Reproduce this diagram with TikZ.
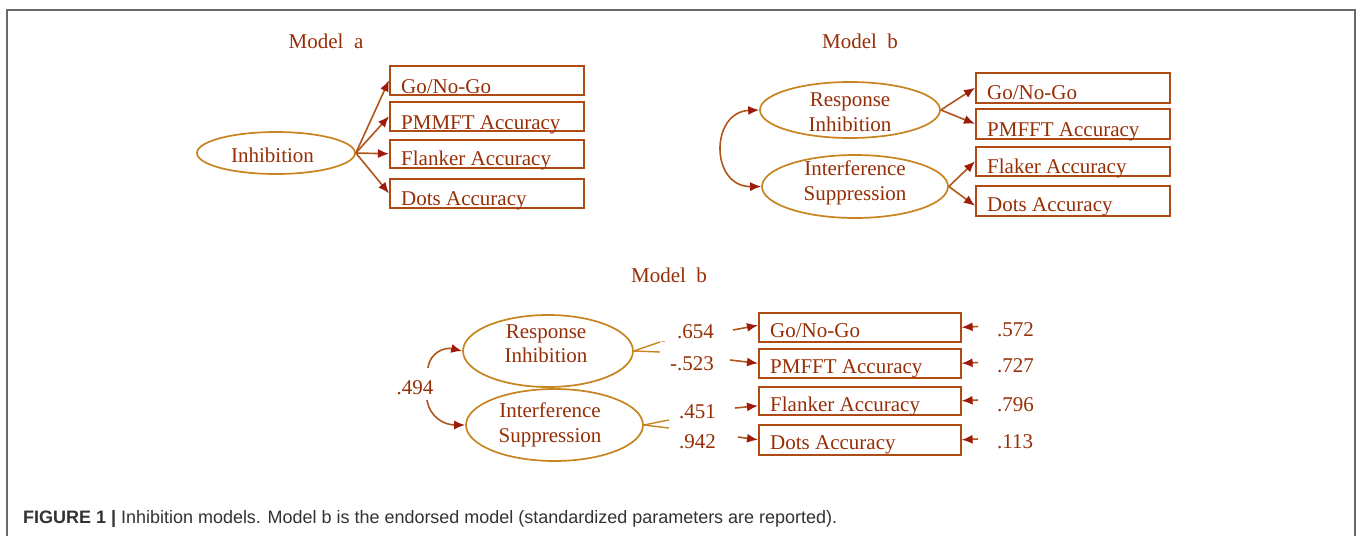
\documentclass[tikz,border=0pt]{standalone}
\usepackage{fontspec}
\usepackage{graphicx}
\setmainfont{Liberation Serif}
\newfontfamily\capfont{Liberation Sans}
\usetikzlibrary{shapes.geometric,arrows.meta,calc}
\definecolor{txtc}{HTML}{962E06}
\definecolor{boxc}{HTML}{B04A14}
\definecolor{ellc}{HTML}{C8841E}
\definecolor{arrc}{HTML}{B0561A}
\definecolor{tipc}{HTML}{9E1A0A}
\definecolor{framec}{HTML}{6A6A6A}
\definecolor{capc}{HTML}{333333}
\begin{document}
\begin{tikzpicture}[x=1pt,y=-1pt,
  every node/.style={font=\fontsize{21}{24}\selectfont, text=txtc, inner sep=0pt},
  ell/.style={draw=ellc, line width=1.7pt, ellipse, inner sep=0pt},
  obox/.style={draw=boxc, line width=1.6pt, rectangle, inner sep=0pt, anchor=north west},
  btext/.style={anchor=base west},
  lbl/.style={anchor=base},
  conn/.style={draw=arrc, line width=1.6pt, -{Latex[length=11pt,width=9pt,color=tipc]}},
  dconn/.style={draw=arrc, line width=1.6pt, {Latex[length=11pt,width=9pt,color=tipc]}-{Latex[length=11pt,width=9pt,color=tipc]}},
  tick/.style={draw=ellc, line width=1.4pt}
  ]
\useasboundingbox (0,0) rectangle (1357,536);
\fill[white] (0,0) rectangle (1357,536);
\draw[framec, line width=2pt] (7,536) -- (7,10) -- (1355,10) -- (1355,536);

% ---------------- Model a ----------------
\node[lbl] (ta) at (326,48) {Model\ \ a};
\node[ell, minimum width=158pt, minimum height=42pt] (inh) at (276,153) {};
\node[lbl] (inht) at (272.5,162) {Inhibition};
\node[obox, minimum width=194pt, minimum height=29pt] (a1) at (389,65) {};
\node[obox, minimum width=194pt, minimum height=29pt] (a2) at (389,101) {};
\node[obox, minimum width=194pt, minimum height=28pt] (a3) at (389,139) {};
\node[obox, minimum width=194pt, minimum height=29pt] (a4) at (389,178) {};
\node[btext] (a1t) at ([xshift=12pt,yshift=2.5pt]a1.south west) {Go/No-Go};
\node[btext] (a2t) at ([xshift=12pt,yshift=2.5pt]a2.south west) {PMMFT Accuracy};
\node[btext] (a3t) at ([xshift=12pt,yshift=3pt]a3.south west) {Flanker Accuracy};
\node[btext] (a4t) at ([xshift=12pt,yshift=3.5pt]a4.south west) {Dots Accuracy};
\draw[conn] (inh.east) -- (a1.west);
\draw[conn] (inh.east) -- (a2.west);
\draw[conn] (inh.east) -- (a3.west);
\draw[conn] (inh.east) -- (a4.west);

% ---------------- Model b (top) ----------------
\node[lbl] (tb) at (860,48) {Model\ \ b};
\node[ell, minimum width=180pt, minimum height=56pt] (rb) at (850,110) {};
\node[lbl] (rbt1) at (850,106) {Response};
\node[lbl] (rbt2) at (850,131) {Inhibition};
\node[ell, minimum width=186pt, minimum height=63pt] (isb) at (855,186.5) {};
\node[lbl] (isbt1) at (855,175) {Interference};
\node[lbl] (isbt2) at (855,200) {Suppression};
\node[obox, minimum width=194pt, minimum height=30pt] (b1) at (975,72) {};
\node[obox, minimum width=194pt, minimum height=30pt] (b2) at (975,108) {};
\node[obox, minimum width=194pt, minimum height=29pt] (b3) at (975,146) {};
\node[obox, minimum width=194pt, minimum height=30pt] (b4) at (975,185) {};
\node[btext] (b1t) at ([xshift=12pt,yshift=4pt]b1.south west) {Go/No-Go};
\node[btext] (b2t) at ([xshift=12pt,yshift=3pt]b2.south west) {PMFFT Accuracy};
\node[btext] (b3t) at ([xshift=12pt,yshift=3pt]b3.south west) {Flaker Accuracy};
\node[btext] (b4t) at ([xshift=12pt,yshift=5pt]b4.south west) {Dots Accuracy};
\draw[conn] (rb.east) -- (b1.west);
\draw[conn] (rb.east) -- (b2.west);
\draw[conn] (isb.east) -- (b3.west);
\draw[conn] (isb.east) -- ([yshift=-5pt]b4.west);
\draw[dconn] (rb.west) .. controls (710,112) and (710,187) .. (isb.west);

% ---------------- Model b (bottom, estimates) ----------------
\node[lbl] (tc) at (669,282) {Model\ \ b};
\node[ell, minimum width=170pt, minimum height=72pt] (rc) at (548,351) {};
\node[lbl] (rct1) at (546,338) {Response};
\node[lbl] (rct2) at (546,362) {Inhibition};
\node[ell, minimum width=177pt, minimum height=72pt] (isc) at (554.5,425) {};
\node[lbl] (isct1) at (550,417) {Interference};
\node[lbl] (isct2) at (550,442) {Suppression};

\node[obox, minimum width=202pt, minimum height=29pt] (c1) at (758,312) {};
\node[obox, minimum width=202pt, minimum height=29pt] (c2) at (758,348) {};
\node[obox, minimum width=202pt, minimum height=28pt] (c3) at (758,386) {};
\node[obox, minimum width=202pt, minimum height=30pt] (c4) at (758,424) {};
\node[btext] (c1t) at ([xshift=12pt,yshift=5pt]c1.south west) {Go/No-Go};
\node[btext] (c2t) at ([xshift=12pt,yshift=5pt]c2.south west) {PMFFT Accuracy};
\node[btext] (c3t) at ([xshift=12pt,yshift=4pt]c3.south west) {Flanker Accuracy};
\node[btext] (c4t) at ([xshift=12pt,yshift=6pt]c4.south west) {Dots Accuracy};

% correlation
\node[lbl] (r494) at (415,394) {.494};
\coordinate (u0) at (428,368);
\coordinate (l0) at (427,400);
\draw[conn] (u0) .. controls (430,352) and (445,347) .. (rc.west);
\draw[conn] (l0) .. controls (430,418) and (445,425) .. (isc.west);

% fork marks at ellipse ends
\draw[tick] (rc.east) -- ++(26,-9);
\draw[tick] (rc.east) -- ++(26,1);
\draw[draw=ellc!70, line width=0.8pt] (661,341) -- (665,341);
\draw[tick] (isc.east) -- ++(25,-5);
\draw[tick] (isc.east) -- ++(25,3);

% loadings
\node[anchor=base east] (l654) at (714,338) {.654};
\node[anchor=base east] (l523) at (714,370) {-.523};
\node[anchor=base east] (l451) at (716,418) {.451};
\node[anchor=base east] (l942) at (716,448) {.942};
\coordinate (p1) at (733,330);
\coordinate (p2) at (730,360);
\coordinate (p3) at (735,408);
\coordinate (p4) at (738,437);
\draw[conn] (p1) -- ([yshift=2pt]c1.west);
\draw[conn] (p2) -- (c2.west);
\draw[conn] (p3) -- ([yshift=-5pt]c3.west);
\draw[conn] (p4) -- (c4.west);

% residuals
\coordinate (q1) at (978,326.5);
\coordinate (q2) at (978,362.5);
\coordinate (q3) at (978,400);
\coordinate (q4) at (978,439);
\draw[conn] (q1) -- (c1.east);
\draw[conn] (q2) -- (c2.east);
\draw[conn] (q3) -- (c3.east);
\draw[conn] (q4) -- (c4.east);
\node[anchor=base west] (e1) at (997,336) {.572};
\node[anchor=base west] (e2) at (997,372) {.727};
\node[anchor=base west] (e3) at (997,411) {.796};
\node[anchor=base west] (e4) at (997,448) {.113};

% caption
\node[anchor=base west, text=capc, font=\capfont\fontsize{18}{20}\selectfont] (cap) at (23,523)
  {\resizebox{814pt}{\height}{\textbf{FIGURE 1 |} Inhibition models. Model b is the endorsed model (standardized parameters are reported).}};
\end{tikzpicture}
\end{document}
